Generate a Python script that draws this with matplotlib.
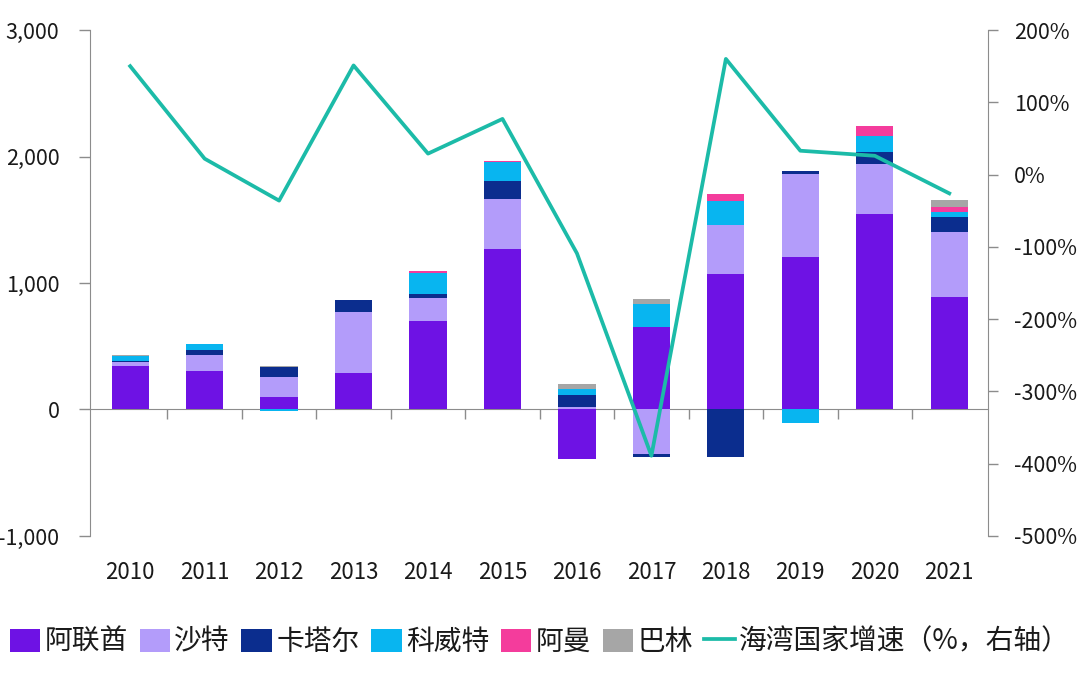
import numpy as np
import matplotlib
matplotlib.use("Agg")
import matplotlib.pyplot as plt
from matplotlib.ticker import FuncFormatter

plt.rcParams['font.family'] = ['Noto Sans CJK SC', 'DejaVu Sans']

years = [str(y) for y in range(2010, 2022)]

# 流入规模（左轴）
uae = [342, 307, 97, 287, 698, 1267, -395, 656, 1073, 1202, 1546, 891]
saudi = [30, 125, 156, 480, 187, 401, 18, -350, 387, 660, 395, 511]
qatar = [10, 40, 81, 95, 32, 137, 95, -27, -372, 27, 91, 116]
kuwait = [40, 47, -10, 0, 166, 150, 47, 179, 192, -106, 130, 42]
oman = [0, 0, 0, 0, 13, 11, 0, 0, 53, 0, 81, 40]
bahrain = [5, 0, 8, 0, 0, 0, 43, 40, 0, 0, 0, 60]

# 海湾国家增速（%，右轴）
growth = [150, 22, -36, 151, 29, 77, -109, -389, 160, 33, 26, -26]

names = ["阿联酋", "沙特", "卡塔尔", "科威特", "阿曼", "巴林"]
colors = ["#6E12E4", "#B39CFA", "#0B2D8E", "#08B5F0", "#F43C9C", "#A6A6A6"]
line_color = "#1CBBA8"
axis_color = "#8C8C8C"
text_color = "#1A1A1A"

series = [uae, saudi, qatar, kuwait, oman, bahrain]
x = np.arange(len(years))

fig = plt.figure(figsize=(10.8, 6.9), dpi=100)
ax = fig.add_axes([0.0833, 0.2232, 0.8315, 0.7333])

pos_bottom = np.zeros(len(x))
neg_bottom = np.zeros(len(x))
handles = []
for vals, name, c in zip(series, names, colors):
    v = np.array(vals, dtype=float)
    bottom = np.where(v >= 0, pos_bottom, neg_bottom)
    b = ax.bar(x, v, width=0.5, bottom=bottom, color=c, label=name, zorder=2)
    handles.append(b)
    pos_bottom += np.where(v >= 0, v, 0)
    neg_bottom += np.where(v < 0, v, 0)

ax.set_ylim(-1000, 3000)
ax.set_yticks([-1000, 0, 1000, 2000, 3000])
ax.yaxis.set_major_formatter(FuncFormatter(lambda v, p: f"{int(v):,}"))
ax.set_xlim(-0.54, len(x) - 0.48)
ax.set_xticks(x)
ax.set_xticklabels(years)
ax.tick_params(axis="x", length=0, pad=18, labelsize=16, labelcolor=text_color)
ax.tick_params(axis="y", length=8, width=1, color=axis_color, pad=14,
               labelsize=15.5, labelcolor=text_color)
for s in ["top", "right", "bottom"]:
    ax.spines[s].set_visible(False)
ax.spines["left"].set_color(axis_color)

# zero line with category boundary ticks
zero_ax = ax.secondary_xaxis(0, transform=ax.transData)
zero_ax.set_xticks(x[:-1] + 0.5)
zero_ax.tick_params(length=7, width=1, color=axis_color, labelbottom=False)
zero_ax.spines["bottom"].set_color(axis_color)

ax2 = ax.twinx()
ln, = ax2.plot(x, growth, color=line_color, lw=2.7, label="海湾国家增速（%，右轴）",
               zorder=3)
ax2.set_ylim(-500, 200)
ax2.set_yticks(range(-500, 201, 100))
ax2.yaxis.set_major_formatter(FuncFormatter(lambda v, p: f"{int(v)}%"))
ax2.tick_params(axis="y", length=7, width=1, color=axis_color, pad=12,
                labelsize=15.5, labelcolor=text_color)
for s in ["top", "left", "bottom"]:
    ax2.spines[s].set_visible(False)
ax2.spines["right"].set_color(axis_color)

fig.legend(handles + [ln], names + ["海湾国家增速（%，右轴）"], loc="center",
           bbox_to_anchor=(0.5, 0.07), ncol=7, frameon=False, fontsize=20,
           handlelength=1.1, handleheight=0.9, handletextpad=0.15,
           columnspacing=0.42, labelcolor=text_color)

fig.savefig("out.png", dpi=100)
